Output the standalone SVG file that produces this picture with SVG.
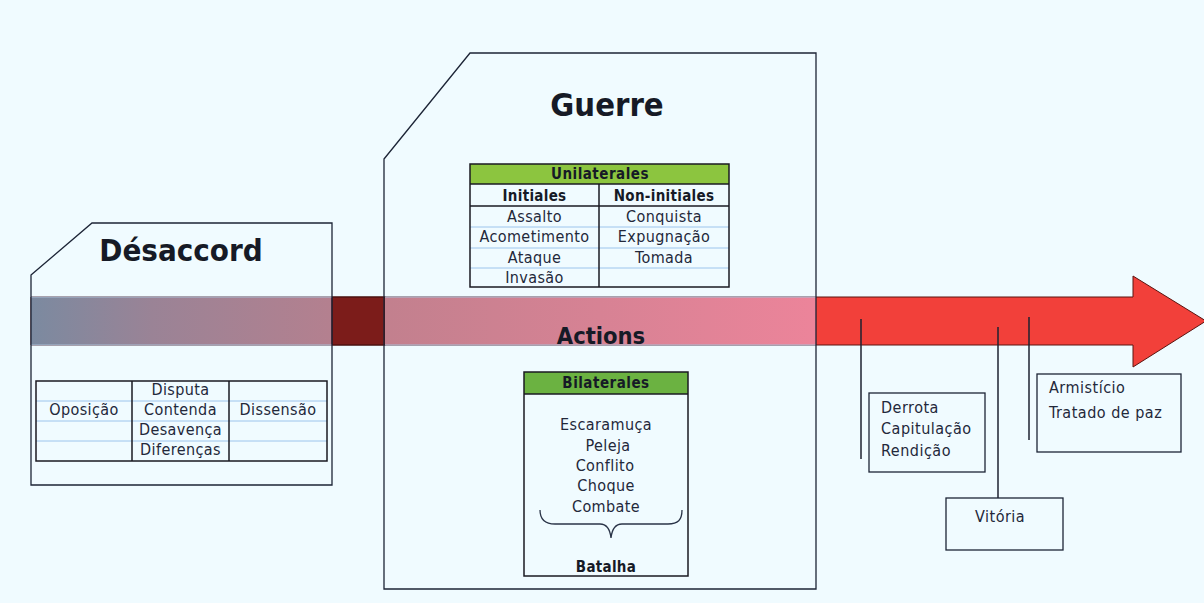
<svg xmlns="http://www.w3.org/2000/svg" width="1204" height="603" viewBox="0 0 1204 603">
<defs>
<linearGradient id="gDes" x1="31" y1="0" x2="332" y2="0" gradientUnits="userSpaceOnUse">
<stop offset="0" stop-color="#7b8aa0"/><stop offset="0.4" stop-color="#9a8396"/><stop offset="1" stop-color="#b4808f"/>
</linearGradient>
<linearGradient id="gGue" x1="385" y1="0" x2="816" y2="0" gradientUnits="userSpaceOnUse">
<stop offset="0" stop-color="#c2808e"/><stop offset="1" stop-color="#ec849a"/>
</linearGradient>
<style>
text{font-family:'DejaVu Sans Condensed','DejaVu Sans',sans-serif;fill:#161a26}
.t{font-size:16px;letter-spacing:0.4px;text-anchor:middle;fill:#23283a}
.l{font-size:16px;letter-spacing:0.5px;fill:#23283a}
.b{font-size:15px;font-weight:bold;letter-spacing:0.3px;text-anchor:middle}
.h{font-size:31px;font-weight:bold;text-anchor:middle}
.box{fill:none;stroke:#1c2436;stroke-width:1.3}
.tbl{fill:none;stroke:#1a1a22;stroke-width:1.5}
.row{stroke:#9cc4ec;stroke-width:1}
.col{stroke:#1a1a22;stroke-width:1.5}
.con{stroke:#1e2230;stroke-width:1.5;fill:none}
</style>
</defs>
<rect x="0" y="0" width="1204" height="603" fill="#f0fbff"/>

<g id="arrow">
<path d="M31,297 H1133 V276 L1206,321 L1133,367 V345 H31 Z" fill="#f2403a" stroke="#5a1410" stroke-width="1"/>
<rect x="31" y="297" width="301" height="48" fill="url(#gDes)"/>
<rect x="332" y="297" width="53" height="48" fill="#7c1c1a" stroke="#3a0a0a" stroke-width="1"/>
<rect x="385" y="297" width="431" height="48" fill="url(#gGue)"/>
<line x1="31" y1="297" x2="332" y2="297" stroke="#a8bcd4" stroke-width="1"/>
<line x1="31" y1="345" x2="332" y2="345" stroke="#a8bcd4" stroke-width="1"/>
<line x1="385" y1="297" x2="816" y2="297" stroke="#a8bcd4" stroke-width="1"/>
<line x1="385" y1="345" x2="816" y2="345" stroke="#a8bcd4" stroke-width="1"/>
</g>

<g id="desaccord">
<path class="box" d="M31,275 L92,223 H332 V485 H31 Z"/>
<text class="h" x="181" y="261">Désaccord</text>
<g id="desaccord-table">
<line class="row" x1="36" y1="401" x2="327" y2="401"/>
<line class="row" x1="36" y1="421" x2="327" y2="421"/>
<line class="row" x1="36" y1="441" x2="327" y2="441"/>
<line class="col" x1="132" y1="381" x2="132" y2="461"/>
<line class="col" x1="229" y1="381" x2="229" y2="461"/>
<rect class="tbl" x="36" y="381" width="291" height="80"/>
<text class="t" x="180.5" y="395">Disputa</text>
<text class="t" x="180.5" y="415">Contenda</text>
<text class="t" x="180.5" y="435">Desavença</text>
<text class="t" x="180.5" y="455">Diferenças</text>
<text class="t" x="84" y="415">Oposição</text>
<text class="t" x="278" y="415">Dissensão</text>
</g>
</g>

<g id="guerre">
<path class="box" d="M384,159 L470,53 H816 V589 H384 Z"/>
<text class="h" x="607" y="116" style="font-size:32.5px">Guerre</text>
<text class="h" x="601" y="344" style="font-size:23.5px">Actions</text>
<g id="unilaterales">
<rect x="470" y="164" width="259" height="20" fill="#8cc53f"/>
<line class="row" x1="470" y1="227" x2="729" y2="227"/>
<line class="row" x1="470" y1="248" x2="729" y2="248"/>
<line class="row" x1="470" y1="268" x2="729" y2="268"/>
<line class="col" x1="470" y1="184" x2="729" y2="184"/>
<line class="col" x1="470" y1="206" x2="729" y2="206"/>
<line class="col" x1="599" y1="184" x2="599" y2="287"/>
<rect class="tbl" x="470" y="164" width="259" height="123"/>
<text class="b" x="600" y="179" style="letter-spacing:0.5px">Unilaterales</text>
<text class="b" x="534.5" y="201">Initiales</text>
<text class="b" x="664" y="201">Non-initiales</text>
<text class="t" x="534.5" y="222">Assalto</text>
<text class="t" x="534.5" y="242">Acometimento</text>
<text class="t" x="534.5" y="263">Ataque</text>
<text class="t" x="534.5" y="283">Invasão</text>
<text class="t" x="664" y="222">Conquista</text>
<text class="t" x="664" y="242">Expugnação</text>
<text class="t" x="664" y="263">Tomada</text>
</g>
<g id="bilaterales">
<rect x="524" y="372" width="164" height="22" fill="#6bb241"/>
<line class="col" x1="524" y1="394" x2="688" y2="394"/>
<rect class="tbl" x="524" y="372" width="164" height="204"/>
<text class="b" x="606" y="388" style="letter-spacing:0.5px">Bilaterales</text>
<text class="t" x="606" y="430">Escaramuça</text>
<text class="t" x="608" y="451">Peleja</text>
<text class="t" x="605" y="471">Conflito</text>
<text class="t" x="606" y="491">Choque</text>
<text class="t" x="606" y="512">Combate</text>
<path d="M540,510 C540,520 545,524 555,524 H600 C606,524 610,529 611,538 C612,529 616,524 622,524 H668 C678,524 682,520 682,510" fill="none" stroke="#2a3448" stroke-width="1.3"/>
<text class="b" x="606" y="572">Batalha</text>
</g>
</g>

<g id="connectors">
<line class="con" x1="861" y1="319" x2="861" y2="459"/>
<line class="con" x1="998" y1="327" x2="998" y2="498"/>
<line class="con" x1="1029" y1="317" x2="1029" y2="440"/>
</g>

<g id="derrota">
<rect class="box" x="869" y="393" width="116" height="79"/>
<text class="l" x="881" y="413">Derrota</text>
<text class="l" x="881" y="434">Capitulação</text>
<text class="l" x="881" y="456">Rendição</text>
</g>

<g id="vitoria">
<rect class="box" x="946" y="498" width="117" height="52"/>
<text class="l" x="975" y="522">Vitória</text>
</g>

<g id="armisticio">
<rect class="box" x="1037" y="374" width="144" height="78"/>
<text class="l" x="1049" y="393">Armistício</text>
<text class="l" x="1049" y="418">Tratado de paz</text>
</g>
</svg>
